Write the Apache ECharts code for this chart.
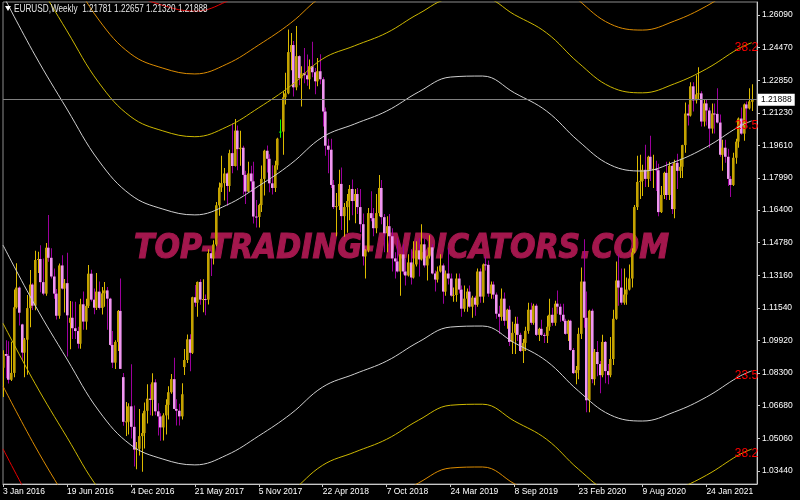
<!DOCTYPE html>
<html><head><meta charset="utf-8">
<script src="https://cdn.jsdelivr.net/npm/echarts@6/dist/echarts.min.js"></script>
<style>html,body{margin:0;padding:0;background:#000}#c{width:800px;height:500px}</style>
</head><body><div id="c"></div>
<script>
const symbolName = 'EURUSD';
const periodName = 'Weekly';
const startWeek = '2016-01-03';
const watermarkText = 'TOP-TRADING-INDICATORS.COM';
// weekly bars: [open, high, low, close]
const weeklyOHLC = [
[1.0857,1.0943,1.0711,1.0925],[1.0925,1.0993,1.0805,1.0916],[1.0916,1.0988,1.0778,1.0797],[1.0797,1.0986,1.0791,1.0831],
[1.0831,1.1246,1.0810,1.1157],[1.1157,1.1376,1.1151,1.1255],[1.1255,1.1260,1.1067,1.1130],[1.1072,1.1075,1.0890,1.0932],
[1.0932,1.1004,1.0810,1.0996],[1.0996,1.1218,1.0822,1.1153],[1.1153,1.1342,1.1058,1.1270],[1.1270,1.1277,1.1144,1.1165],
[1.1165,1.1438,1.1142,1.1392],[1.1392,1.1433,1.1327,1.1397],[1.1397,1.1465,1.1232,1.1282],[1.1282,1.1399,1.1217,1.1225],
[1.1225,1.1476,1.1215,1.1453],[1.1453,1.1616,1.1383,1.1403],[1.1403,1.1450,1.1300,1.1310],[1.1310,1.1350,1.1200,1.1225],
[1.1225,1.1248,1.1097,1.1115],[1.1115,1.1375,1.1100,1.1365],[1.1365,1.1416,1.1245,1.1250],[1.1250,1.1298,1.1131,1.1277],
[1.1277,1.1428,1.0912,1.1117],[1.1080,1.1188,1.0949,1.1105],[1.1105,1.1186,1.1000,1.1053],[1.1053,1.1185,1.1000,1.1039],
[1.1039,1.1060,1.0952,1.0976],[1.0976,1.1200,1.0951,1.1172],[1.1172,1.1236,1.1046,1.1086],[1.1086,1.1199,1.1045,1.1164],
[1.1164,1.1367,1.1153,1.1324],[1.1324,1.1343,1.1186,1.1195],[1.1195,1.1251,1.1123,1.1155],[1.1155,1.1327,1.1144,1.1235],
[1.1235,1.1285,1.1146,1.1154],[1.1154,1.1258,1.1121,1.1226],[1.1226,1.1283,1.1160,1.1241],[1.1241,1.1258,1.1046,1.1200],
[1.1200,1.1205,1.0965,1.0970],[1.0970,1.1039,1.0855,1.0882],[1.0882,1.0993,1.0851,1.0985],[1.0985,1.1144,1.0940,1.1139],
[1.1139,1.1300,1.0850,1.0851],[1.0810,1.0830,1.0568,1.0588],[1.0587,1.0686,1.0518,1.0590],[1.0588,1.0680,1.0525,1.0665],
[1.0665,1.0874,1.0505,1.0563],[1.0563,1.0669,1.0366,1.0450],[1.0450,1.0488,1.0352,1.0454],[1.0454,1.0652,1.0420,1.0517],
[1.0517,1.0630,1.0340,1.0532],[1.0532,1.0684,1.0455,1.0643],[1.0643,1.0775,1.0580,1.0703],[1.0703,1.0775,1.0620,1.0697],
[1.0697,1.0829,1.0618,1.0784],[1.0784,1.0800,1.0620,1.0640],[1.0640,1.0680,1.0520,1.0615],[1.0615,1.0630,1.0494,1.0560],
[1.0560,1.0630,1.0495,1.0620],[1.0620,1.0700,1.0525,1.0672],[1.0672,1.0765,1.0600,1.0735],[1.0735,1.0825,1.0728,1.0800],
[1.0800,1.0906,1.0650,1.0652],[1.0652,1.0700,1.0570,1.0643],[1.0643,1.0678,1.0570,1.0615],[1.0615,1.0780,1.0600,1.0725],
[1.0860,1.0950,1.0820,1.0895],[1.0895,1.1022,1.0880,1.0998],[1.0998,1.1023,1.0839,1.0931],[1.0931,1.1210,1.0925,1.1207],
[1.1207,1.1268,1.1160,1.1180],[1.1180,1.1285,1.1110,1.1283],[1.1283,1.1296,1.1170,1.1195],[1.1195,1.1296,1.1132,1.1198],
[1.1198,1.1220,1.1118,1.1195],[1.1195,1.1445,1.1171,1.1426],[1.1426,1.1440,1.1312,1.1400],[1.1400,1.1490,1.1370,1.1469],
[1.1469,1.1680,1.1460,1.1664],[1.1664,1.1777,1.1612,1.1752],[1.1752,1.1910,1.1730,1.1774],[1.1774,1.1849,1.1688,1.1822],
[1.1822,1.1827,1.1662,1.1760],[1.1760,1.1940,1.1731,1.1923],[1.1923,1.2070,1.1823,1.1859],[1.1859,1.2093,1.1857,1.2035],
[1.2035,1.2060,1.1838,1.1943],[1.1943,1.2034,1.1860,1.1950],[1.1950,1.1960,1.1717,1.1815],[1.1815,1.1835,1.1670,1.1732],
[1.1732,1.1880,1.1730,1.1822],[1.1822,1.1860,1.1730,1.1783],[1.1783,1.1880,1.1574,1.1608],[1.1608,1.1690,1.1553,1.1606],
[1.1606,1.1672,1.1553,1.1665],[1.1665,1.1861,1.1631,1.1795],[1.1795,1.1940,1.1713,1.1935],[1.1935,1.1961,1.1827,1.1895],
[1.1895,1.1917,1.1729,1.1773],[1.1773,1.1863,1.1718,1.1750],[1.1750,1.1885,1.1730,1.1862],[1.1862,1.2000,1.1840,1.1995],
[1.2030,1.2090,1.2000,1.2030],[1.2030,1.2230,1.1915,1.2200],[1.2200,1.2323,1.2165,1.2220],[1.2220,1.2537,1.2215,1.2425],
[1.2425,1.2520,1.2335,1.2460],[1.2460,1.2480,1.2205,1.2250],[1.2250,1.2555,1.2235,1.2405],[1.2405,1.2410,1.2260,1.2295],
[1.2295,1.2355,1.2155,1.2320],[1.2320,1.2445,1.2270,1.2310],[1.2310,1.2413,1.2258,1.2290],[1.2290,1.2388,1.2240,1.2355],
[1.2355,1.2476,1.2300,1.2325],[1.2325,1.2346,1.2215,1.2280],[1.2280,1.2396,1.2255,1.2330],[1.2330,1.2414,1.2265,1.2290],
[1.2290,1.2300,1.2055,1.2130],[1.2130,1.2150,1.1910,1.1960],[1.1960,1.1995,1.1823,1.1940],[1.1940,1.1995,1.1750,1.1765],
[1.1765,1.1790,1.1645,1.1655],[1.1655,1.1725,1.1510,1.1660],[1.1660,1.1840,1.1640,1.1770],[1.1770,1.1852,1.1541,1.1610],
[1.1610,1.1675,1.1508,1.1655],[1.1655,1.1720,1.1527,1.1685],[1.1685,1.1765,1.1590,1.1745],[1.1745,1.1792,1.1615,1.1685],
[1.1685,1.1745,1.1575,1.1720],[1.1720,1.1750,1.1620,1.1655],[1.1655,1.1745,1.1530,1.1570],[1.1570,1.1623,1.1365,1.1410],
[1.1410,1.1445,1.1300,1.1440],[1.1440,1.1650,1.1430,1.1625],[1.1625,1.1734,1.1585,1.1600],[1.1600,1.1650,1.1510,1.1550],
[1.1550,1.1720,1.1525,1.1625],[1.1625,1.1815,1.1610,1.1750],[1.1750,1.1790,1.1570,1.1605],[1.1605,1.1620,1.1430,1.1525],
[1.1525,1.1610,1.1430,1.1560],[1.1560,1.1620,1.1430,1.1510],[1.1510,1.1550,1.1335,1.1400],[1.1400,1.1430,1.1300,1.1385],
[1.1385,1.1500,1.1330,1.1335],[1.1335,1.1420,1.1215,1.1420],[1.1420,1.1470,1.1320,1.1335],[1.1335,1.1400,1.1265,1.1315],
[1.1315,1.1420,1.1310,1.1380],[1.1380,1.1445,1.1270,1.1305],[1.1305,1.1485,1.1300,1.1370],[1.1370,1.1485,1.1360,1.1440],
[1.1440,1.1500,1.1310,1.1395],[1.1395,1.1570,1.1390,1.1470],[1.1470,1.1500,1.1355,1.1365],[1.1365,1.1415,1.1290,1.1410],
[1.1410,1.1515,1.1400,1.1455],[1.1455,1.1470,1.1320,1.1325],[1.1325,1.1340,1.1235,1.1295],[1.1295,1.1360,1.1280,1.1335],
[1.1335,1.1420,1.1330,1.1365],[1.1365,1.1375,1.1175,1.1235],[1.1235,1.1340,1.1215,1.1325],[1.1325,1.1450,1.1270,1.1300],
[1.1300,1.1325,1.1210,1.1215],[1.1215,1.1255,1.1185,1.1218],[1.1218,1.1325,1.1185,1.1300],[1.1300,1.1325,1.1225,1.1245],
[1.1245,1.1265,1.1110,1.1150],[1.1150,1.1265,1.1135,1.1200],[1.1200,1.1250,1.1135,1.1235],[1.1235,1.1265,1.1155,1.1160],
[1.1160,1.1215,1.1105,1.1205],[1.1205,1.1215,1.1115,1.1170],[1.1170,1.1350,1.1160,1.1335],[1.1335,1.1350,1.1180,1.1210],
[1.1210,1.1375,1.1180,1.1370],[1.1370,1.1410,1.1340,1.1368],[1.1368,1.1390,1.1210,1.1225],[1.1225,1.1285,1.1200,1.1270],
[1.1270,1.1285,1.1200,1.1220],[1.1220,1.1230,1.1100,1.1125],[1.1125,1.1165,1.1025,1.1110],[1.1110,1.1250,1.1090,1.1200],
[1.1200,1.1230,1.1065,1.1090],[1.1090,1.1150,1.1050,1.1145],[1.1145,1.1165,1.0965,1.0985],[1.0985,1.1085,1.0925,1.1030],
[1.1030,1.1110,1.0925,1.1075],[1.1075,1.1110,1.0990,1.1020],[1.1020,1.1030,1.0935,1.0940],[1.0940,1.1000,1.0880,1.0980],
[1.0980,1.1060,1.0940,1.1040],[1.1040,1.1180,1.1025,1.1145],[1.1145,1.1180,1.1070,1.1080],[1.1080,1.1175,1.1070,1.1165],
[1.1165,1.1175,1.1015,1.1020],[1.1020,1.1055,1.0990,1.1050],[1.1050,1.1095,1.1015,1.1020],[1.1020,1.1030,1.0980,1.1015],
[1.1015,1.1115,1.0980,1.1060],[1.1060,1.1200,1.1040,1.1120],[1.1120,1.1155,1.1065,1.1080],[1.1080,1.1190,1.1065,1.1175],
[1.1175,1.1240,1.1125,1.1160],[1.1160,1.1175,1.1085,1.1120],[1.1120,1.1175,1.1085,1.1090],[1.1090,1.1100,1.1020,1.1025],
[1.1025,1.1095,1.0990,1.1090],[1.1090,1.1095,1.0940,1.0945],[1.0945,1.0955,1.0825,1.0830],[1.0830,1.0865,1.0775,1.0845],
[1.0845,1.1055,1.0800,1.1025],[1.1025,1.1355,1.1000,1.1285],[1.1285,1.1495,1.1055,1.1105],[1.1105,1.1235,1.0635,1.0695],
[1.0695,1.1145,1.0636,1.1140],[1.1140,1.1150,1.0780,1.0800],[1.0800,1.0950,1.0770,1.0935],[1.0935,1.0990,1.0815,1.0875],
[1.0875,1.0890,1.0730,1.0820],[1.0820,1.1020,1.0810,1.0985],[1.0985,1.0990,1.0780,1.0840],[1.0840,1.0875,1.0775,1.0820],
[1.0820,1.1010,1.0810,1.0900],[1.0900,1.1145,1.0870,1.1100],[1.1100,1.1385,1.1095,1.1290],[1.1290,1.1420,1.1165,1.1255],
[1.1255,1.1350,1.1170,1.1180],[1.1180,1.1350,1.1170,1.1220],[1.1220,1.1305,1.1170,1.1245],[1.1245,1.1370,1.1240,1.1300],
[1.1300,1.1450,1.1255,1.1430],[1.1430,1.1665,1.1425,1.1655],[1.1655,1.1910,1.1640,1.1780],[1.1780,1.1915,1.1695,1.1785],
[1.1785,1.1865,1.1710,1.1840],[1.1840,1.1965,1.1755,1.1795],[1.1795,1.1910,1.1755,1.1905],[1.1905,1.2010,1.1785,1.1840],
[1.1840,1.1915,1.1750,1.1845],[1.1845,1.1885,1.1735,1.1838],[1.1838,1.1870,1.1610,1.1630],[1.1630,1.1760,1.1625,1.1715],
[1.1715,1.1830,1.1695,1.1825],[1.1825,1.1880,1.1690,1.1715],[1.1715,1.1880,1.1690,1.1860],[1.1860,1.1870,1.1620,1.1645],
[1.1645,1.1890,1.1600,1.1875],[1.1875,1.1920,1.1745,1.1835],[1.1835,1.1895,1.1800,1.1855],[1.1855,1.1965,1.1800,1.1963],
[1.1963,1.2175,1.1925,1.2120],[1.2120,1.2165,1.2060,1.2110],[1.2110,1.2275,1.2105,1.2255],[1.2255,1.2275,1.2130,1.2185],
[1.2185,1.2310,1.2170,1.2215],[1.2215,1.2350,1.2190,1.2220],[1.2220,1.2230,1.2055,1.2080],[1.2080,1.2190,1.2055,1.2170],
[1.2170,1.2190,1.2060,1.2135],[1.2135,1.2150,1.1950,1.2045],[1.2045,1.2170,1.2020,1.2120],[1.2120,1.2170,1.2020,1.2118],
[1.2118,1.2245,1.2070,1.2075],[1.2075,1.2115,1.1905,1.1915],[1.1915,1.1990,1.1835,1.1950],[1.1950,1.1990,1.1875,1.1905],
[1.1905,1.1945,1.1760,1.1795],[1.1795,1.1810,1.1705,1.1765],[1.1765,1.1925,1.1760,1.1900],[1.1900,1.1995,1.1870,1.1980],
[1.1980,1.2100,1.1950,1.2095],[1.2095,1.2150,1.2015,1.2020],[1.2020,1.2170,1.1985,1.2165],[1.2165,1.2180,1.2050,1.2145],
[1.2145,1.2245,1.2140,1.2180],[1.21781,1.22657,1.21320,1.21888]
];
const xTickLabels = ['3 Jan 2016','19 Jun 2016','4 Dec 2016','21 May 2017','5 Nov 2017','22 Apr 2018','7 Oct 2018','24 Mar 2019','8 Sep 2019','23 Feb 2020','9 Aug 2020','24 Jan 2021'];
const xTickEvery = 24;
const yTickValues = [1.0344,1.0506,1.0668,1.0830,1.0992,1.1154,1.1316,1.1478,1.1640,1.1799,1.1961,1.2123,1.2285,1.2447,1.2609];
// band centre line read at sampled bars
const bandIndex  = [0,12,24,36,48,60,72,84,96,108,120,132,144,156,168,180,192,204,216,228,240,252,264,276,281];
const bandCenter = [1.2087,1.1789,1.1521,1.1263,1.1094,1.1024,1.0995,1.1044,1.1139,1.1248,1.1382,1.1447,1.1511,1.1606,1.1680,1.1685,1.1601,1.1511,1.1362,1.1243,1.1213,1.1258,1.1332,1.1432,1.1462];
const bandLevels = [23.5, 38.2, 50, 61.8];
const bandUnit = 0.002643;
const bandColors = ['#CFCFCF', '#CDB800', '#DC8C00', '#E80000'];

const FONT = '"Liberation Sans", Arial, sans-serif';
const nBars = weeklyOHLC.length;
const categories = [];
const d0 = new Date(startWeek + 'T00:00:00Z');
for (let k = 0; k < nBars + 2; k++) {
  categories.push(new Date(d0.getTime() + k * 7 * 86400000).toISOString().slice(0, 10));
}
const last = weeklyOHLC[nBars - 1];
const titleText = symbolName + ',' + periodName + '  ' + last.map(v => v.toFixed(5)).join(' ');

function renderCandle(params, api) {
  const i = api.value(0), o = api.value(1), h = api.value(2), l = api.value(3), c = api.value(4);
  const pO = api.coord([i, o]), pC = api.coord([i, c]), pH = api.coord([i, h]), pL = api.coord([i, l]);
  const cx = Math.round(pO[0]);
  const doji = o === c, bull = c > o;
  const wick = doji ? '#00FF00' : (bull ? '#DDBB00' : '#9C009C');
  const body = doji ? '#00FF00' : (bull ? '#C4A200' : '#F096F0');
  const top = Math.min(pO[1], pC[1]), bot = Math.max(pO[1], pC[1]);
  return { type: 'group', children: [
    { type: 'rect', shape: { x: cx, y: pH[1], width: 1, height: Math.max(1, pL[1] - pH[1]) }, style: { fill: wick } },
    { type: 'rect', shape: { x: cx - 1, y: top, width: 2.6, height: Math.max(1, bot - top) }, style: { fill: body } }
  ]};
}

const series = [{
  type: 'custom', name: 'price', renderItem: renderCandle, clip: true, z: 2, silent: true,
  encode: { x: 0, y: [1, 2, 3, 4] },
  data: weeklyOHLC.map((r, i) => [i, r[0], r[1], r[2], r[3]]),
  markLine: {
    silent: true, symbol: ['none', 'none'], animation: false, precision: 5,
    lineStyle: { color: '#808080', type: 'solid', width: 1 },
    label: { position: 'end', formatter: () => last[3].toFixed(5), backgroundColor: '#FFFFFF', color: '#000000',
      fontFamily: FONT, fontSize: 8.5, padding: [2, 3, 1, 3], distance: 1 },
    data: [{ yAxis: last[3] }]
  }
}];
const lastBandIx = bandIndex[bandIndex.length - 1];
const lastBandC = bandCenter[bandCenter.length - 1];
bandLevels.forEach((lv, k) => {
  [1, -1].forEach(sign => {
    const endVal = lastBandC + sign * lv * bandUnit;
    series.push({
      type: 'line', silent: true, animation: false, smooth: 0.4, showSymbol: false, clip: true, z: 3,
      data: bandIndex.map((ix, j) => [ix, bandCenter[j] + sign * lv * bandUnit]),
      lineStyle: { color: bandColors[k], width: 1 },
      markPoint: {
        silent: true, animation: false, symbol: 'circle', symbolSize: 1, itemStyle: { color: 'rgba(0,0,0,0)' },
        label: { show: true, formatter: String(lv), position: 'left', distance: 0, offset: [7, 5],
          color: '#FF0000', fontFamily: FONT, fontSize: 12 },
        data: [{ coord: [lastBandIx, endVal] }]
      }
    });
  });
});

const mctx = document.createElement('canvas').getContext('2d');
const wmFont = 'italic bold 34px "DejaVu Sans"';
mctx.font = wmFont;
const wmScale = 535 / mctx.measureText(watermarkText).width;

const chart = echarts.init(document.getElementById('c'), null, { renderer: 'canvas' });
chart.setOption({
  backgroundColor: '#000000',
  animation: false,
  grid: { left: 2, right: 43, top: 2, bottom: 16, show: true, borderColor: '#8C8C8C', borderWidth: 1 },
  xAxis: {
    type: 'category', data: categories, boundaryGap: false,
    axisLine: { lineStyle: { color: '#C8C8C8', width: 1 } },
    axisTick: { interval: (idx) => idx % xTickEvery === 0, length: 3, lineStyle: { color: '#C8C8C8' } },
    axisLabel: { interval: (idx) => idx % xTickEvery === 0, formatter: (v, idx) => xTickLabels[idx / xTickEvery] || '',
      align: 'left', color: '#FFFFFF', fontFamily: FONT, fontSize: 8.5, margin: 3 },
    splitLine: { show: false }
  },
  yAxis: {
    type: 'value', position: 'right', min: 1.0279, max: 1.2674, scale: true,
    axisLine: { show: true, lineStyle: { color: '#C8C8C8', width: 1 } },
    axisTick: { show: true, customValues: yTickValues, length: 3, lineStyle: { color: '#C8C8C8' } },
    axisLabel: { customValues: yTickValues, formatter: v => v.toFixed(5), color: '#FFFFFF', fontFamily: FONT, fontSize: 8.5, margin: 5 },
    splitLine: { show: false }
  },
  graphic: [
    { type: 'text', x: 134, y: 249, scaleX: wmScale, z: 0, silent: true,
      style: { text: watermarkText, font: wmFont, fill: '#A3174D', stroke: '#A3174D', lineWidth: 1.2, verticalAlign: 'middle', align: 'left' } },
    { type: 'polygon', z: 10, silent: true, shape: { points: [[5, 6], [11, 6], [8, 11]] }, style: { fill: '#FFFFFF' } },
    { type: 'text', x: 14, y: 9, z: 10, silent: true, scaleX: 0.82,
      style: { text: titleText, font: '10px ' + FONT, fill: '#E8E8E8', verticalAlign: 'middle', align: 'left' } }
  ],
  series: series
});
</script>
</body></html>
